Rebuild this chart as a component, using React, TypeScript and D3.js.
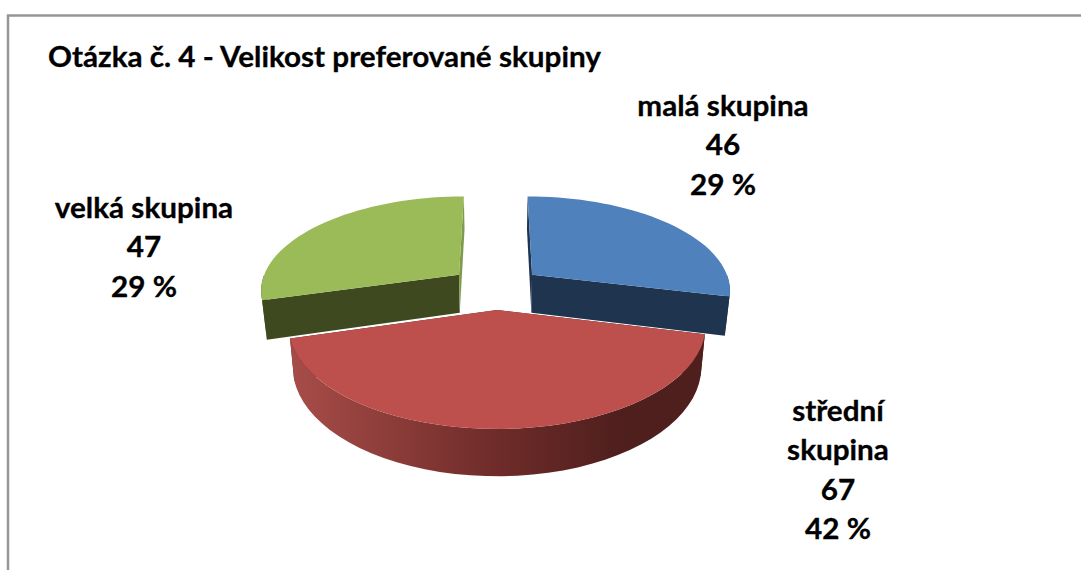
import React from "react";
import * as d3 from "d3";

const title = "Otázka č. 4 - Velikost preferované skupiny";
const categories = [["malá skupina"], ["střední", "skupina"], ["velká skupina"]];
const values = [46, 67, 47];

const faceColors = ["#4f81bd", "#bd4f4c", "#9bbb59"];
const wallColors = ["#1f344f", "#4e1f1d", "#3f4920"];
const innerColors = ["#1f344f", "#4e1f1d", "#7f9a4c"];
const labelX = [723, 838, 144];
const labelY = [116, 421, 218];
const explodeU = [0.18, 0, -0.195];
const explodeV = [-0.37, 0, -0.37];

const width = 1081;
const height = 570;
const cx = 497;
const cy = 310;
const radiusX = 206;
const radiusY = 100.5;
const depth = 40;
const persp = 0.155;
const lineGap = 39.3;
const stretch = 1.06; // the source picture is a bit wider than the font

// tilted disc with a bit of perspective, z = 0 top face, z = 1 bottom face
const project = (u: number, v: number, z: number): [number, number] => {
  const w = 1 / (1 - persp * v);
  return [
    cx + radiusX * u * w * (1 - 0.02 * z),
    cy + (radiusY * v + depth * z) * w,
  ];
};

const line = d3.line();

const slices = d3
  .pie<number>()
  .sort(null)
  .startAngle(0)
  .endAngle(2 * Math.PI)(values);

const total = d3.sum(values);

function shapes(i: number) {
  const s = slices[i];
  const rim = (from: number, to: number, z: number) =>
    d3.range(0, 41).map((k) => {
      const a = from + ((to - from) * k) / 40;
      return project(
        Math.sin(a) + explodeU[i],
        -Math.cos(a) + explodeV[i],
        z
      );
    });
  const apex = (z: number) => project(explodeU[i], explodeV[i], z);
  const top = rim(s.startAngle, s.endAngle, 0);
  const bottom = rim(s.startAngle, s.endAngle, 1);
  // only the part of the rim that faces the viewer gets a wall
  const frontFrom = Math.max(s.startAngle, Math.PI / 2);
  const frontTo = Math.min(s.endAngle, (3 * Math.PI) / 2);
  return {
    face: line([apex(0), ...top]) + "Z",
    rim:
      line([
        ...rim(frontFrom, frontTo, 0),
        ...rim(frontFrom, frontTo, 1).reverse(),
      ]) + "Z",
    startWall: line([apex(0), top[0], bottom[0], apex(1)]) + "Z",
    endWall: line([apex(0), top[40], bottom[40], apex(1)]) + "Z",
  };
}

export default function App() {
  // red slice last, it sits in front of the other two
  const order = [0, 2, 1];
  return (
    <svg
      width={width}
      height={height}
      style={{ position: "absolute", left: 0, top: 0, background: "#fff" }}
      fontFamily="Lato, sans-serif"
      fontWeight="bold"
    >
      <defs>
        <linearGradient
          id="redRim"
          gradientUnits="userSpaceOnUse"
          x1={295}
          x2={705}
          y1={0}
          y2={0}
        >
          <stop offset="0" stopColor="#a64c48" />
          <stop offset="0.5" stopColor="#6e2b29" />
          <stop offset="0.8" stopColor="#4e1f1d" />
          <stop offset="1" stopColor="#4e1f1d" />
        </linearGradient>
      </defs>
      <path
        d={`M8,${height}V15.5H${width}`}
        fill="none"
        stroke="#969696"
        strokeWidth={2.5}
      />
      <text
        transform={`translate(48,67) scale(${stretch},1)`}
        fontSize={28}
        fill="#000"
        stroke="#000"
        strokeWidth={0.3}
      >
        {title}
      </text>
      {order.map((i) => {
        const p = shapes(i);
        const rimFill = i === 1 ? "url(#redRim)" : wallColors[i];
        return (
          <g key={i}>
            <path d={p.startWall} fill={i === 2 ? wallColors[i] : innerColors[i]} />
            <path d={p.endWall} fill={i === 2 ? innerColors[i] : wallColors[i]} />
            <path d={p.rim} fill={rimFill} />
            <path d={p.face} fill={faceColors[i]} />
          </g>
        );
      })}
      {categories.map((lines, i) => {
        const rows = [
          ...lines,
          String(values[i]),
          `${Math.round((values[i] / total) * 100)} %`,
        ];
        return (
          <text
            key={i}
            transform={`translate(${labelX[i]},${labelY[i]}) scale(${stretch},1)`}
            textAnchor="middle"
            fontSize={28}
            fill="#000"
            stroke="#000"
            strokeWidth={0.3}
          >
            {rows.map((r, k) => (
              <tspan key={k} x={0} y={k * lineGap}>
                {r}
              </tspan>
            ))}
          </text>
        );
      })}
    </svg>
  );
}
